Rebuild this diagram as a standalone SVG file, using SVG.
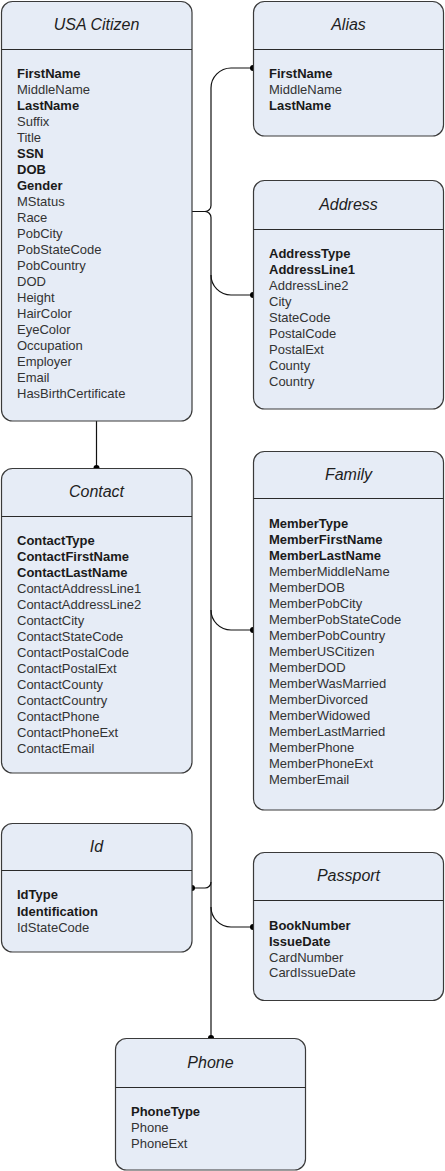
<svg xmlns="http://www.w3.org/2000/svg" width="445" height="1171" viewBox="0 0 445 1171">
<defs>
<style>
.box{fill:#E6ECF6;stroke:#3a3a3a;stroke-width:1.2}
.shadow{fill:none;stroke:#9aa0a8;stroke-width:1}
.div{stroke:#2a2a2a;stroke-width:1.2}
.title{font-family:"Liberation Sans",Arial,sans-serif;font-size:16px;font-style:italic;fill:#1e1e1e;text-anchor:middle}
.attr{font-family:"Liberation Sans",Arial,sans-serif;font-size:13px;fill:#333}
.key{font-weight:bold;fill:#1a1a1a}
.conn{fill:none;stroke:#111;stroke-width:1.2}
.dot{fill:#000}
</style>
</defs>
<rect width="445" height="1171" fill="#ffffff"/>

<g id="connectors">
<path class="conn" d="M96.5,421 V468"/>
<circle class="dot" cx="96.5" cy="468" r="3"/>
<path class="conn" d="M192,211.5 H205 A6,6 0 0 0 211,205.5 V88 A20,20 0 0 1 231,68 H253"/>
<circle class="dot" cx="253" cy="68" r="3"/>
<path class="conn" d="M205,211.5 A6,6 0 0 1 211,217.5 V1038"/>
<circle class="dot" cx="211" cy="1038" r="3"/>
<path class="conn" d="M211,275 A20,20 0 0 0 231,295 H253"/>
<circle class="dot" cx="253" cy="295" r="3"/>
<path class="conn" d="M211,610 A20,20 0 0 0 231,630 H253"/>
<circle class="dot" cx="253" cy="630" r="3"/>
<path class="conn" d="M211,882 A6,6 0 0 1 205,888 H192"/>
<circle class="dot" cx="192" cy="888" r="3"/>
<path class="conn" d="M211,907 A20,20 0 0 0 231,927 H253"/>
<circle class="dot" cx="253" cy="927" r="3"/>
</g>

<g id="usa-citizen">
<rect class="box" x="1.5" y="1.5" width="190.5" height="419.5" rx="11"/>
<line class="div" x1="1.5" y1="49.5" x2="192" y2="49.5"/>
<text class="title" x="96.5" y="30">USA Citizen</text>
<text class="attr" x="17">
<tspan x="17" y="78" class="key">FirstName</tspan>
<tspan x="17" y="94">MiddleName</tspan>
<tspan x="17" y="110" class="key">LastName</tspan>
<tspan x="17" y="126">Suffix</tspan>
<tspan x="17" y="142">Title</tspan>
<tspan x="17" y="158" class="key">SSN</tspan>
<tspan x="17" y="174" class="key">DOB</tspan>
<tspan x="17" y="190" class="key">Gender</tspan>
<tspan x="17" y="206">MStatus</tspan>
<tspan x="17" y="222">Race</tspan>
<tspan x="17" y="238">PobCity</tspan>
<tspan x="17" y="254">PobStateCode</tspan>
<tspan x="17" y="270">PobCountry</tspan>
<tspan x="17" y="286">DOD</tspan>
<tspan x="17" y="302">Height</tspan>
<tspan x="17" y="318">HairColor</tspan>
<tspan x="17" y="334">EyeColor</tspan>
<tspan x="17" y="350">Occupation</tspan>
<tspan x="17" y="366">Employer</tspan>
<tspan x="17" y="382">Email</tspan>
<tspan x="17" y="398">HasBirthCertificate</tspan>
</text>
</g>

<g id="alias">
<rect class="box" x="253.5" y="1.5" width="190" height="134.5" rx="11"/>
<line class="div" x1="253.5" y1="49.5" x2="443.5" y2="49.5"/>
<text class="title" x="348.5" y="30">Alias</text>
<text class="attr">
<tspan x="269" y="78" class="key">FirstName</tspan>
<tspan x="269" y="94">MiddleName</tspan>
<tspan x="269" y="110" class="key">LastName</tspan>
</text>
</g>

<g id="address">
<rect class="box" x="253.5" y="180.5" width="190" height="228.5" rx="11"/>
<line class="div" x1="253.5" y1="229.5" x2="443.5" y2="229.5"/>
<text class="title" x="348.5" y="210">Address</text>
<text class="attr">
<tspan x="269" y="258" class="key">AddressType</tspan>
<tspan x="269" y="274" class="key">AddressLine1</tspan>
<tspan x="269" y="290">AddressLine2</tspan>
<tspan x="269" y="306">City</tspan>
<tspan x="269" y="322">StateCode</tspan>
<tspan x="269" y="338">PostalCode</tspan>
<tspan x="269" y="354">PostalExt</tspan>
<tspan x="269" y="370">County</tspan>
<tspan x="269" y="386">Country</tspan>
</text>
</g>

<g id="contact">
<rect class="box" x="1.5" y="468.5" width="190.5" height="304.5" rx="11"/>
<line class="div" x1="1.5" y1="516.5" x2="192" y2="516.5"/>
<text class="title" x="96.5" y="497">Contact</text>
<text class="attr">
<tspan x="17" y="545" class="key">ContactType</tspan>
<tspan x="17" y="561" class="key">ContactFirstName</tspan>
<tspan x="17" y="577" class="key">ContactLastName</tspan>
<tspan x="17" y="593">ContactAddressLine1</tspan>
<tspan x="17" y="609">ContactAddressLine2</tspan>
<tspan x="17" y="625">ContactCity</tspan>
<tspan x="17" y="641">ContactStateCode</tspan>
<tspan x="17" y="657">ContactPostalCode</tspan>
<tspan x="17" y="673">ContactPostalExt</tspan>
<tspan x="17" y="689">ContactCounty</tspan>
<tspan x="17" y="705">ContactCountry</tspan>
<tspan x="17" y="721">ContactPhone</tspan>
<tspan x="17" y="737">ContactPhoneExt</tspan>
<tspan x="17" y="753">ContactEmail</tspan>
</text>
</g>

<g id="family">
<rect class="box" x="253.5" y="451.5" width="190" height="358.5" rx="11"/>
<line class="div" x1="253.5" y1="498.5" x2="443.5" y2="498.5"/>
<text class="title" x="348.5" y="480">Family</text>
<text class="attr">
<tspan x="269" y="528" class="key">MemberType</tspan>
<tspan x="269" y="544" class="key">MemberFirstName</tspan>
<tspan x="269" y="560" class="key">MemberLastName</tspan>
<tspan x="269" y="576">MemberMiddleName</tspan>
<tspan x="269" y="592">MemberDOB</tspan>
<tspan x="269" y="608">MemberPobCity</tspan>
<tspan x="269" y="624">MemberPobStateCode</tspan>
<tspan x="269" y="640">MemberPobCountry</tspan>
<tspan x="269" y="656">MemberUSCitizen</tspan>
<tspan x="269" y="672">MemberDOD</tspan>
<tspan x="269" y="688">MemberWasMarried</tspan>
<tspan x="269" y="704">MemberDivorced</tspan>
<tspan x="269" y="720">MemberWidowed</tspan>
<tspan x="269" y="736">MemberLastMarried</tspan>
<tspan x="269" y="752">MemberPhone</tspan>
<tspan x="269" y="768">MemberPhoneExt</tspan>
<tspan x="269" y="784">MemberEmail</tspan>
</text>
</g>

<g id="id">
<rect class="box" x="1.5" y="823.5" width="190.5" height="128.5" rx="11"/>
<line class="div" x1="1.5" y1="870.5" x2="192" y2="870.5"/>
<text class="title" x="96.5" y="852">Id</text>
<text class="attr">
<tspan x="17" y="899" class="key">IdType</tspan>
<tspan x="17" y="916" class="key">Identification</tspan>
<tspan x="17" y="932">IdStateCode</tspan>
</text>
</g>

<g id="passport">
<rect class="box" x="253.5" y="852.5" width="190" height="148" rx="11"/>
<line class="div" x1="253.5" y1="900.5" x2="443.5" y2="900.5"/>
<text class="title" x="348.5" y="881">Passport</text>
<text class="attr">
<tspan x="269" y="930" class="key">BookNumber</tspan>
<tspan x="269" y="946" class="key">IssueDate</tspan>
<tspan x="269" y="962">CardNumber</tspan>
<tspan x="269" y="977">CardIssueDate</tspan>
</text>
</g>

<g id="phone">
<rect class="box" x="115.5" y="1038.5" width="190" height="131.5" rx="11"/>
<line class="div" x1="115.5" y1="1087.5" x2="305.5" y2="1087.5"/>
<text class="title" x="210.5" y="1068">Phone</text>
<text class="attr">
<tspan x="131" y="1116" class="key">PhoneType</tspan>
<tspan x="131" y="1132">Phone</tspan>
<tspan x="131" y="1148">PhoneExt</tspan>
</text>
</g>
</svg>
